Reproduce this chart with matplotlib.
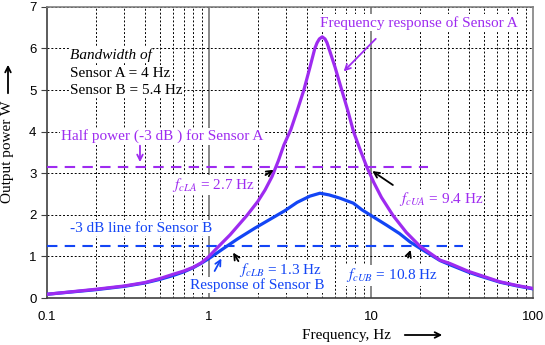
import matplotlib
matplotlib.use("Agg")
import matplotlib.pyplot as plt
from matplotlib.ticker import LogLocator, FixedLocator, NullFormatter

plt.rcParams['font.family'] = ['Liberation Serif', 'DejaVu Serif']
plt.rcParams['mathtext.fontset'] = 'stix'

# Datos
freq_a = [0.1, 0.2, 0.3, 0.4, 0.5, 0.6, 0.7, 0.8, 0.9, 1.0, 1.1, 1.35, 1.71,
          2.0, 2.22, 2.45, 2.68, 2.9, 3.2, 3.5, 3.85, 4.2, 4.5, 4.65, 4.8, 5.0,
          5.2, 5.35, 5.5, 6.0, 6.6, 7.2, 7.8, 8.6, 9.4, 10.4, 11.6, 13.7, 16.5,
          20, 26.7, 30.7, 40, 47, 62.5, 80, 100]
power_a = [0.09, 0.21, 0.29, 0.37, 0.47, 0.57, 0.65, 0.74, 0.85, 1.0, 1.17, 1.52,
           1.98, 2.32, 2.6, 2.92, 3.3, 3.68, 4.05, 4.5, 5.0, 5.55, 6.0, 6.14, 6.23,
           6.28, 6.23, 6.14, 6.0, 5.55, 5.0, 4.5, 4.0, 3.55, 3.16, 2.78, 2.42, 1.98,
           1.58, 1.25, 0.91, 0.83, 0.64, 0.55, 0.39, 0.3, 0.23]

freq_b = [0.1, 0.2, 0.3, 0.4, 0.5, 0.6, 0.7, 0.8, 0.9, 1.0, 1.26, 1.5, 1.92, 2.4,
          2.94, 3.5, 4.2, 4.84, 5.5, 6.44, 7.78, 8.8, 9.86, 12.5, 15, 17.4, 20,
          26.7, 30.7, 40, 47, 62.5, 80, 100]
power_b = [0.09, 0.2, 0.28, 0.36, 0.45, 0.54, 0.63, 0.73, 0.84, 0.95, 1.22, 1.42,
           1.68, 1.9, 2.1, 2.3, 2.45, 2.52, 2.48, 2.4, 2.28, 2.12, 2.0, 1.75, 1.55,
           1.35, 1.2, 0.9, 0.8, 0.62, 0.53, 0.38, 0.29, 0.22]

half_a = 3.16   # -3 dB sensor A
half_b = 1.24   # -3 dB sensor B
half_a_end = 22.6
half_b_end = 37

purple = '#9E2BF0'
blue = '#1345F5'

fig = plt.figure(figsize=(5.45, 3.45), dpi=100)
ax = fig.add_axes([0.0862, 0.1362, 0.8918, 0.8438])

ax.set_xscale('log')
ax.set_xlim(0.1, 100)
ax.set_ylim(0, 7)

# Rejilla
ax.xaxis.set_major_locator(FixedLocator([0.1, 1, 10, 100]))
ax.xaxis.set_minor_locator(LogLocator(base=10, subs=range(2, 10)))
ax.xaxis.set_minor_formatter(NullFormatter())
ax.set_xticklabels(['0.1', '1', '10', '100'])
ax.set_yticks(range(0, 8))
for x in [1, 10]:
    ax.axvline(x, color='#808080', lw=1.3, zorder=1)
ax.grid(True, which='minor', axis='x', color='black', ls=(0, (2, 2)), lw=0.7)
ax.grid(True, which='major', axis='y', color='black', ls=(0, (2, 2)), lw=0.7)

for s in ax.spines.values():
    s.set_color('#808080')
    s.set_linewidth(1.2)
ax.spines['left'].set_color('#404040')
ax.spines['bottom'].set_color('#404040')
ax.tick_params(axis='both', which='major', length=4, color='#404040',
               labelsize=9.5, direction='out')
ax.tick_params(axis='x', which='minor', length=0)
ax.tick_params(axis='x', which='major', length=0, pad=9)
for lab in ax.get_xticklabels() + ax.get_yticklabels():
    lab.set_fontfamily('Liberation Sans')

# Curvas
ax.plot(freq_b, power_b, color=blue, lw=2.3, zorder=4)
ax.plot(freq_a, power_a, color=purple, lw=2.3, zorder=5)
ax.plot([0.1, half_a_end], [half_a, half_a], color=purple, lw=1.5,
        ls=(0, (5, 3.5)), zorder=3)
ax.plot([0.1, half_b_end], [half_b, half_b], color=blue, lw=1.5,
        ls=(0, (5, 3.5)), zorder=3)

# Textos con fondo blanco
fs = 11
caja = dict(facecolor='white', edgecolor='none', pad=1.0)

def texto(x, y, s, c='black', **kw):
    ax.text(x, y, s, color=c, fontsize=fs, va='center', bbox=caja,
            zorder=2.5, **kw)

texto(0.139, 5.84, 'Bandwidth of', style='italic')
texto(0.139, 5.41, 'Sensor A = 4 Hz')
texto(0.139, 5.0, 'Sensor B = 5.4 Hz')
texto(0.122, 3.89, 'Half power (-3 dB ) for Sensor A', purple)
texto(4.84, 6.62, 'Frequency response of Sensor A', purple)
texto(0.591, 2.72, r'$f_{cLA}$ = 2.7 Hz', purple)
texto(14.8, 2.37, r'$f_{cUA}$ = 9.4 Hz', purple)
texto(0.139, 1.675, '-3 dB line for Sensor B', blue)
texto(1.54, 0.67, r'$f_{cLB}$ = 1.3 Hz', blue)
texto(0.764, 0.31, 'Response of Sensor B', blue)
texto(7.01, 0.55, r'$f_{cUB}$ = 10.8 Hz', blue)

# Flechas
def flecha(x0, y0, x1, y1, c):
    ax.annotate('', xy=(x1, y1), xytext=(x0, y0),
                arrowprops=dict(arrowstyle='->', color=c, lw=1.3,
                                mutation_scale=10), zorder=6)

flecha(0.375, 3.73, 0.375, 3.2, purple)
flecha(11.0, 6.28, 6.59, 5.40, purple)
flecha(2.16, 2.92, 2.59, 3.12, 'black')
flecha(14.1, 2.68, 9.86, 3.09, 'black')
flecha(1.55, 0.83, 1.38, 1.15, 'black')
flecha(1.063, 0.59, 1.215, 1.01, blue)
flecha(16.7, 0.91, 17.8, 1.22, 'black')

# Etiquetas de ejes
fig.text(346 / 545, 1 - 336 / 345, 'Frequency, Hz', fontsize=11,
         ha='center', va='center')
fig.text(8 / 545, 1 - 152 / 345, 'Output power W', fontsize=11,
         ha='center', va='center', rotation=90)
ax.annotate('', xy=(445 / 545, 1 - 335 / 345), xytext=(402 / 545, 1 - 335 / 345),
            xycoords='figure fraction', textcoords='figure fraction',
            arrowprops=dict(arrowstyle='->', color='black', lw=1.3))
ax.annotate('', xy=(8 / 545, 1 - 62 / 345), xytext=(8 / 545, 1 - 96 / 345),
            xycoords='figure fraction', textcoords='figure fraction',
            arrowprops=dict(arrowstyle='->', color='black', lw=1.3))

fig.savefig('out.png', dpi=100)
